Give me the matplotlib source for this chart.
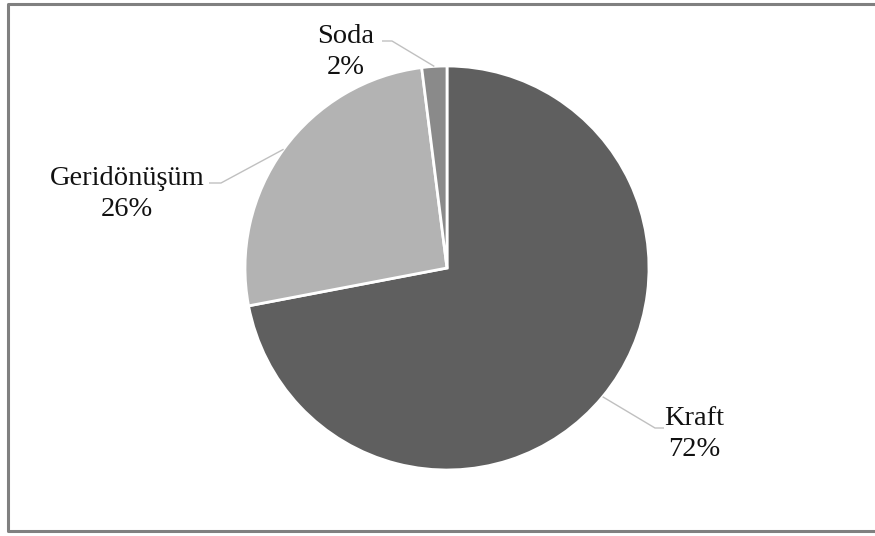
"""Pulp production share by process: pie chart with leader-line labels."""
import numpy as np
import matplotlib.pyplot as plt
from matplotlib.lines import Line2D

# Data
labels = ["Kraft", "Geridönüşüm", "Soda"]
shares = [72, 26, 2]
colors = ["#5f5f5f", "#b3b3b3", "#8a8a8a"]

# Label placement (pixel space, y measured from top) and leader-line elbows
label_pos = [(694, 434), (127, 194), (346, 52)]
elbows = [((655, 428), (664, 428)), ((221, 183), (209, 183)), ((392, 41), (382, 41))]

W, H = 875, 536
CX, CY, R = 447, 268, 202

plt.rcParams["font.family"] = ["Liberation Serif", "DejaVu Serif"]

fig = plt.figure(figsize=(W / 100, H / 100), dpi=100)
ax = fig.add_axes([0, 0, 1, 1])

wedges, _ = ax.pie(
    shares,
    colors=colors,
    startangle=90,
    counterclock=False,
    radius=R,
    center=(CX, H - CY),
    wedgeprops=dict(edgecolor="white", linewidth=2),
    frame=True,
)
ax.set_xlim(0, W)
ax.set_ylim(0, H)
ax.set_aspect("equal")
ax.axis("off")

for w, lab, val, (tx, ty), (e1, e2) in zip(wedges, labels, shares, label_pos, elbows):
    mid = np.deg2rad((w.theta1 + w.theta2) / 2)
    px = CX + R * np.cos(mid)
    py = (H - CY) + R * np.sin(mid)
    xs = [px, e1[0], e2[0]]
    ys = [py, H - e1[1], H - e2[1]]
    ax.plot(xs, ys, color="#c0c0c0", lw=1, solid_capstyle="butt")
    ax.text(tx, H - ty, f"{lab}\n{val}%", ha="center", va="center",
            fontsize=20.5, color="#111111", linespacing=1.32)

# Outer frame (left, top, bottom edges; right edge runs off the canvas)
frame_x = [W + 5, 8, 8, W + 5]
frame_y = [H - 4, H - 4, H - 531, H - 531]
fig.add_artist(Line2D(np.array(frame_x) / W, np.array(frame_y) / H,
                      transform=fig.transFigure, color="#808080", lw=2.2))

fig.savefig("out.png", dpi=100, facecolor="white")
